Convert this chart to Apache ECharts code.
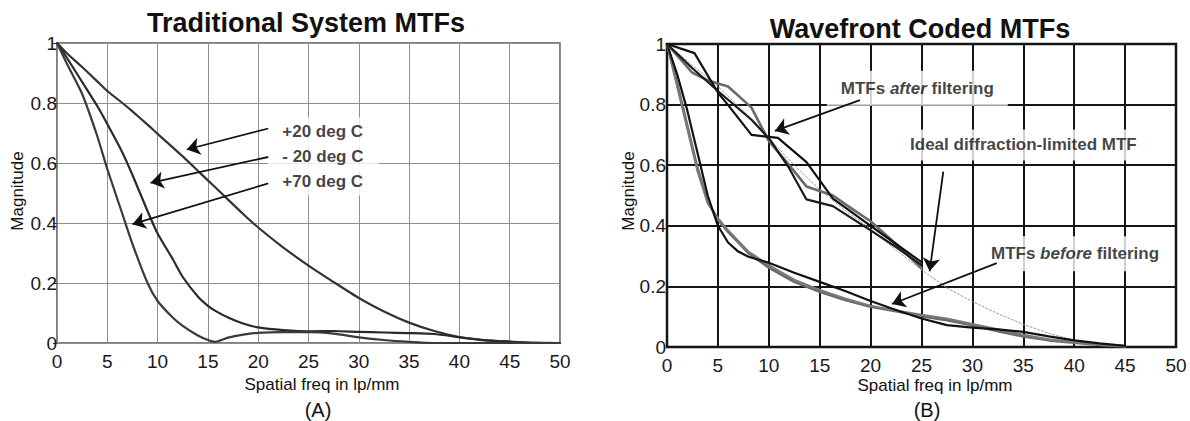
<!DOCTYPE html>
<html><head><meta charset="utf-8">
<script src="https://cdn.jsdelivr.net/npm/echarts@6/dist/echarts.min.js"></script>
<style>html,body{margin:0;padding:0;background:#fff}#c{width:1190px;height:421px}</style>
</head><body><div id="c"></div>
<script>
// ---------- Panel A: Traditional System MTFs ----------
const freqA = [0,1,2.5,4,5,6.5,7.5,9,10,11.5,12.5,14,15,15.7,17,18.5,20,22.5,25,27.5,30,32.5,35,37.5,40,42.5,45,47.5,50];
const mtfPlus20 = [1,0.965,0.92,0.872,0.84,0.80,0.772,0.728,0.697,0.652,0.622,0.574,0.542,0.52,0.478,0.43,0.385,0.318,0.258,0.203,0.15,0.105,0.068,0.04,0.02,0.01,0.005,0.001,0];
const mtfMinus20 = [1,0.95,0.87,0.79,0.73,0.635,0.56,0.44,0.365,0.28,0.22,0.155,0.124,0.108,0.085,0.065,0.052,0.043,0.039,0.04,0.037,0.035,0.033,0.03,0.019,0.009,0.004,0,0];
const mtfPlus70 = [1,0.93,0.83,0.69,0.58,0.43,0.33,0.2,0.14,0.085,0.057,0.025,0.01,0.004,0.018,0.028,0.034,0.036,0.036,0.031,0.019,0.01,0.004,0,0,0,0,0,0];

const labelsA = ['+20 deg C', '- 20 deg C', '+70 deg C'];
const labelAX = [21.0, 21.0, 21.0];
const labelAY = [0.704, 0.621, 0.54];
const arrowAFrom = [[21.0, 0.715], [21.0, 0.62], [21.0, 0.532]];
const arrowATo = [[12.9, 0.645], [9.3, 0.534], [7.5, 0.396]];

// ---------- Panel B: Wavefront Coded MTFs ----------
const freqBefore = [0,1,2,3,4,5,6,7,8,10,12.5,15,17.5,20,22.5,25,27.5,30,32.5,35,37.5,40,42.5,45];
const beforeBlack = [1,0.9,0.78,0.64,0.5,0.4,0.345,0.315,0.298,0.278,0.245,0.215,0.185,0.152,0.122,0.094,0.072,0.064,0.058,0.05,0.035,0.022,0.012,0.004];
const beforeGray1 = [1,0.87,0.73,0.59,0.48,0.42,0.38,0.345,0.31,0.262,0.215,0.182,0.155,0.133,0.118,0.102,0.088,0.072,0.052,0.035,0.022,0.014,0.007,0.002];
const beforeGray2 = [1,0.86,0.72,0.58,0.475,0.425,0.385,0.35,0.315,0.27,0.222,0.188,0.16,0.136,0.12,0.106,0.094,0.076,0.058,0.04,0.025,0.016,0.008,0.003];

const afterBlack1X = [0,2.7,5,6.2,8.3,10.9,13.7,16.3,20,22.5,25];
const afterBlack1Y = [1,0.97,0.84,0.79,0.70,0.69,0.61,0.49,0.40,0.34,0.28];
const afterBlack2X = [0,2.5,5,8.3,10.1,12,13.7,16.3,20,22.5,25];
const afterBlack2Y = [1,0.92,0.845,0.75,0.685,0.59,0.487,0.465,0.385,0.33,0.27];
const afterGrayX = [0,2.5,4,5,6,8.3,10,12,13.7,16.3,18,20,22.5,25];
const afterGrayY = [1,0.905,0.88,0.87,0.86,0.79,0.68,0.6,0.53,0.5,0.46,0.415,0.34,0.26];

const idealX = [0,2.5,5,7.5,10,12.5,15,17.5,20,22.5,25,27.5,30,32.5,35,37.5,40,42.5,45];
const idealY = [1,0.93,0.86,0.78,0.69,0.6,0.52,0.45,0.39,0.32,0.255,0.195,0.15,0.11,0.075,0.045,0.022,0.01,0.003];

const labelsB = ['{b|MTFs }{i|after}{b| filtering}', '{b|Ideal diffraction-limited MTF}', '{b|MTFs }{i|before}{b| filtering}'];
const labelBX = [15.7, 22.5, 30.55];
const labelBY = [0.854, 0.667, 0.308];
const labelBPad = [[9,14,9,14],[7,14,7,14],[9,13,9,13]];
const arrowBFrom = [[18.95, 0.815], [27.14, 0.579], [32.39, 0.277]];
const arrowBTo = [[10.6, 0.713], [25.8, 0.25], [22.1, 0.142]];

// ---------- common ticks ----------
const xMin = 0, xMax = 50, xStep = 5;
const yMin = 0, yMax = 1, yStep = 0.2;

const FONT = '"Liberation Sans", Arial, Helvetica, sans-serif';
const zip = (xs, ys) => xs.map((x, i) => [x, ys[i]]);

function xAxisCfg(idx, gridColor, gridW) {
  return {
    type: 'value', gridIndex: idx, min: xMin, max: xMax, interval: xStep,
    axisLine: { show: false }, axisTick: { show: false },
    axisLabel: { fontSize: 19, color: '#1a1a1a', fontFamily: FONT, margin: 9, showMinLabel: true, showMaxLabel: true },
    splitLine: { show: true, lineStyle: { color: gridColor, width: gridW, type: 'solid' } }
  };
}
function yAxisCfg(idx, gridColor, gridW, tick) {
  return {
    type: 'value', gridIndex: idx, min: yMin, max: yMax, interval: yStep,
    axisLine: { show: false },
    axisTick: { show: tick, length: 4, lineStyle: { color: '#333', width: 1 } },
    axisLabel: { fontSize: 19, color: '#1a1a1a', fontFamily: FONT, margin: tick ? 0 : 1, showMinLabel: true, showMaxLabel: true },
    splitLine: { show: true, lineStyle: { color: gridColor, width: gridW, type: 'solid' } }
  };
}
function line(name, data, xi, color, width, type, smooth) {
  return {
    name, type: 'line', xAxisIndex: xi, yAxisIndex: xi, data,
    showSymbol: false, symbol: 'none', silent: true, animation: false,
    smooth: smooth || false,
    lineStyle: { color, width, type: type || 'solid', cap: 'round', join: 'round' },
    z: 3
  };
}
function annot(xi, texts, xs, ys, pads, from, to) {
  return {
    type: 'scatter', xAxisIndex: xi, yAxisIndex: xi, symbolSize: 0, silent: true, z: 5,
    data: texts.map((t, i) => ({ value: [xs[i], ys[i]], name: t,
      label: { padding: pads ? pads[i] : [6, 15, 6, 14] } })),
    label: {
      show: true, position: 'right', distance: 0, formatter: p => p.name,
      backgroundColor: '#fff', color: '#111', fontSize: 17, fontWeight: 'bold', fontFamily: FONT,
      rich: {
        b: { fontSize: 17, fontWeight: 'bold', fontFamily: FONT, color: '#111' },
        i: { fontSize: 17, fontWeight: 'bold', fontStyle: 'italic', fontFamily: FONT, color: '#111' }
      }
    },
    markLine: {
      silent: true, animation: false, z: 6,
      symbol: ['none', 'arrow'], symbolSize: 13,
      label: { show: false },
      lineStyle: { color: '#111', width: 1.8, type: 'solid' },
      data: from.map((f, i) => [{ coord: f }, { coord: to[i] }])
    }
  };
}

const chart = echarts.init(document.getElementById('c'), null, { renderer: 'svg' });
const txt = (t, x, y, size, bold, rot) => ({
  type: 'text', x, y, rotation: rot || 0, silent: true, z: 10,
  style: { text: t, fill: '#111', font: (bold ? 'bold ' : '') + size + 'px ' + FONT, align: 'center', verticalAlign: 'middle' }
});

chart.setOption({
  animation: false,
  backgroundColor: '#fff',
  grid: [
    { left: 57, top: 43, width: 503, height: 300, show: true, borderColor: '#555', borderWidth: 1.5, backgroundColor: 'transparent', containLabel: false, outerBoundsMode: 'none' },
    { left: 667, top: 44, width: 509, height: 303, show: true, borderColor: '#111', borderWidth: 2.5, backgroundColor: 'transparent', containLabel: false, outerBoundsMode: 'none' }
  ],
  xAxis: [xAxisCfg(0, '#8f8f8f', 1), xAxisCfg(1, '#151515', 2)],
  yAxis: [yAxisCfg(0, '#8f8f8f', 1, true), yAxisCfg(1, '#151515', 2, false)],
  series: [
    line('+20 deg C', zip(freqA, mtfPlus20), 0, '#333', 2.2, null, 0.2),
    line('-20 deg C', zip(freqA, mtfMinus20), 0, '#2a2a2a', 2.2, null, 0.2),
    line('+70 deg C', zip(freqA, mtfPlus70), 0, '#3a3a3a', 2.2, null, 0.2),
    annot(0, labelsA, labelAX, labelAY, null, arrowAFrom, arrowATo),

    line('Ideal', zip(idealX, idealY), 1, '#9a9a9a', 1, [2, 2]),
    line('Before gray 1', zip(freqBefore, beforeGray1), 1, '#6a6a6a', 2.6),
    line('Before gray 2', zip(freqBefore, beforeGray2), 1, '#7a7a7a', 2.2),
    line('Before black', zip(freqBefore, beforeBlack), 1, '#111', 2.2),
    line('After gray', zip(afterGrayX, afterGrayY), 1, '#6a6a6a', 2.6),
    line('After black 1', zip(afterBlack1X, afterBlack1Y), 1, '#111', 2.2),
    line('After black 2', zip(afterBlack2X, afterBlack2Y), 1, '#1a1a1a', 2.2),
    annot(1, labelsB, labelBX, labelBY, labelBPad, arrowBFrom, arrowBTo)
  ],
  graphic: [
    txt('Traditional System MTFs', 306, 23, 27, true),
    txt('Wavefront Coded MTFs', 920, 29, 27, true),
    txt('Spatial freq in lp/mm', 322, 384, 17, false),
    txt('Spatial freq in lp/mm', 935, 385, 17, false),
    txt('(A)', 318, 410, 20, false),
    txt('(B)', 927, 410, 20, false),
    txt('Magnitude', 17, 191, 17, false, Math.PI / 2),
    txt('Magnitude', 628, 191, 17, false, Math.PI / 2)
  ]
});
</script></body></html>
